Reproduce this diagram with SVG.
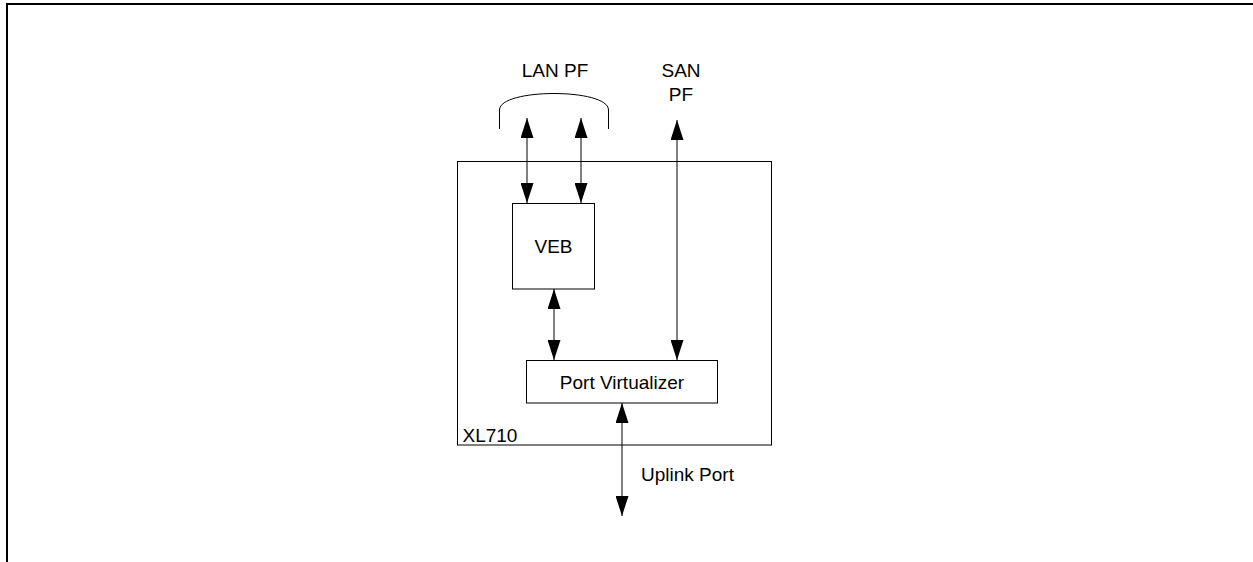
<svg xmlns="http://www.w3.org/2000/svg" width="1253" height="562" viewBox="0 0 1253 562">
<style>
.box{fill:#fff;stroke:#000;stroke-width:1}
.ln{fill:none;stroke:#000;stroke-width:1}
.t{font-family:"Liberation Sans",Arial,sans-serif;font-size:19px;fill:#000}
</style>
<defs>
<marker id="ah" viewBox="0 0 20 13" refX="20" refY="6.5" markerWidth="20" markerHeight="13" markerUnits="userSpaceOnUse" orient="auto-start-reverse">
<path d="M0,0 L20,6.5 L0,13 z" fill="#000"/>
</marker>
</defs>
<rect width="1253" height="562" fill="#fff"/>
<path d="M7,562 V4 H1253" fill="none" stroke="#000" stroke-width="2"/>
<g id="xl710">
<rect class="box" x="457.5" y="161.5" width="314" height="283.5"/>
<text class="t" x="462.5" y="441.5">XL710</text>
</g>
<g id="veb">
<rect class="box" x="512.5" y="203.5" width="82" height="85.5"/>
<text class="t" x="553.5" y="253" text-anchor="middle">VEB</text>
</g>
<g id="pv">
<rect class="box" x="526.5" y="360.5" width="191" height="42.5"/>
<text class="t" x="622" y="388.5" text-anchor="middle">Port Virtualizer</text>
</g>
<g id="lanpf">
<path class="ln" d="M499.5,129 V110 C499.5,88 608.5,88 608.5,110 V129"/>
<text class="t" x="555" y="77" text-anchor="middle">LAN PF</text>
</g>
<g id="sanpf">
<text class="t" x="681" y="77" text-anchor="middle">SAN</text>
<text class="t" x="681" y="101" text-anchor="middle">PF</text>
</g>
<g id="uplink">
<text class="t" x="641" y="481">Uplink Port</text>
</g>
<g id="connectors">
<line class="ln" x1="527" y1="118" x2="527" y2="203" marker-start="url(#ah)" marker-end="url(#ah)"/>
<line class="ln" x1="581" y1="118" x2="581" y2="203" marker-start="url(#ah)" marker-end="url(#ah)"/>
<line class="ln" x1="677" y1="120" x2="677" y2="360" marker-start="url(#ah)" marker-end="url(#ah)"/>
<line class="ln" x1="554" y1="289" x2="554" y2="360" marker-start="url(#ah)" marker-end="url(#ah)"/>
<line class="ln" x1="622" y1="403" x2="622" y2="516" marker-start="url(#ah)" marker-end="url(#ah)"/>
</g>
</svg>
